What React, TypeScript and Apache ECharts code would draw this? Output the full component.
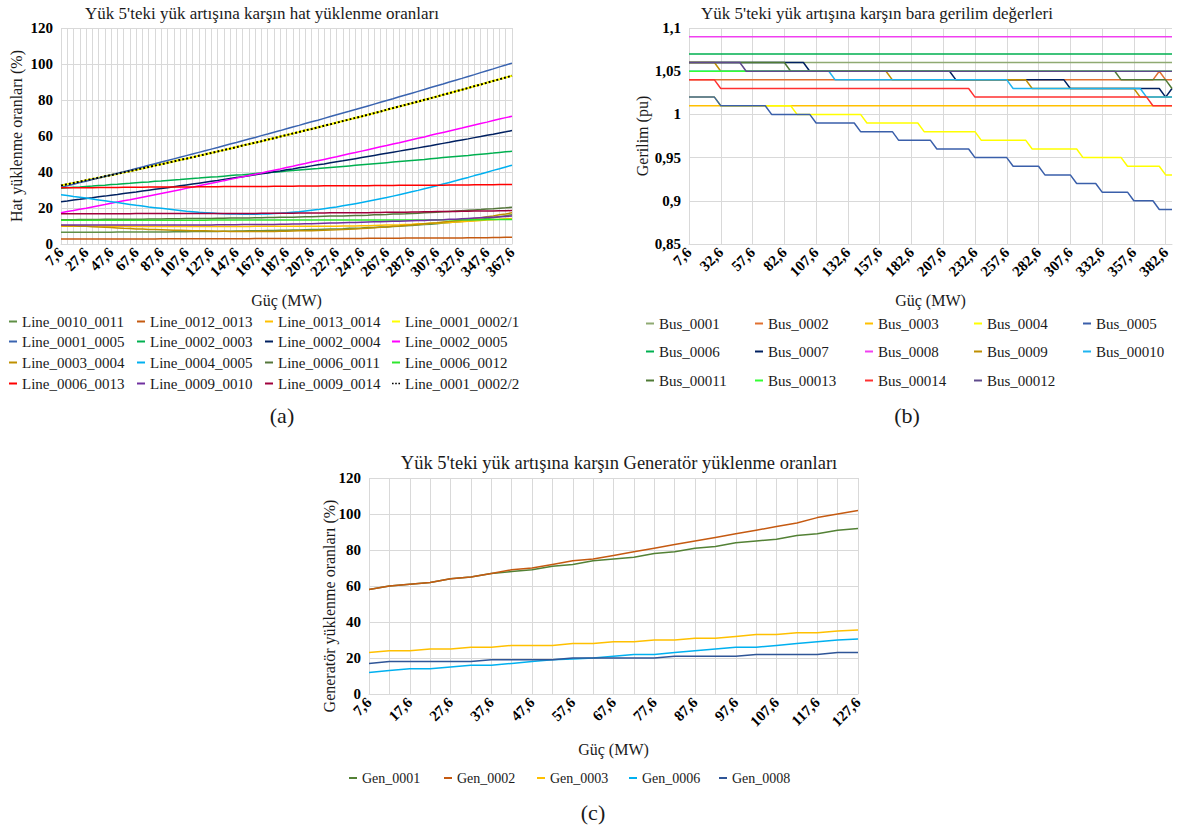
import { useEffect, useRef } from 'react';
import * as echarts from 'echarts';

const FONT = "'Liberation Serif', 'Times New Roman', serif";

// ---------- x categories (MW) ----------
const busCategories = [
  '7,6', '12,6', '17,6', '22,6', '27,6', '32,6', '37,6', '42,6', '47,6', '52,6',
  '57,6', '62,6', '67,6', '72,6', '77,6', '82,6', '87,6', '92,6', '97,6', '102,6',
  '107,6', '112,6', '117,6', '122,6', '127,6', '132,6', '137,6', '142,6', '147,6', '152,6',
  '157,6', '162,6', '167,6', '172,6', '177,6', '182,6', '187,6', '192,6', '197,6', '202,6',
  '207,6', '212,6', '217,6', '222,6', '227,6', '232,6', '237,6', '242,6', '247,6', '252,6',
  '257,6', '262,6', '267,6', '272,6', '277,6', '282,6', '287,6', '292,6', '297,6', '302,6',
  '307,6', '312,6', '317,6', '322,6', '327,6', '332,6', '337,6', '342,6', '347,6', '352,6',
  '357,6', '362,6', '367,6', '372,6', '377,6', '382,6', '387,6',
];
const lineCategories = busCategories.slice(0, 73);
const genCategories = busCategories.slice(0, 25);

// ---------- (a) line loading, % ----------
const line_0010_0011 = [
  6.5, 6.5, 6.5, 6.5, 6.5, 6.5, 6.5, 6.5, 6.5, 6.6,
  6.6, 6.6, 6.6, 6.6, 6.7, 6.7, 6.7, 6.7, 6.8, 6.8,
  6.8, 6.9, 6.9, 7.0, 7.0, 7.0, 7.1, 7.1, 7.2, 7.2,
  7.3, 7.3, 7.4, 7.5, 7.5, 7.6, 7.7, 7.8, 7.8, 7.9,
  8.0, 8.1, 8.2, 8.3, 8.4, 8.5, 8.7, 8.8, 8.9, 9.1,
  9.2, 9.4, 9.5, 9.7, 9.9, 10.1, 10.3, 10.6, 10.8, 11.0,
  11.3, 11.6, 11.9, 12.2, 12.5, 12.9, 13.2, 13.7, 14.1, 14.6,
  15.1, 15.7, 16.3,
];
const line_0012_0013 = [
  2.8, 2.8, 2.8, 2.8, 2.8, 2.8, 2.8, 2.8, 2.8, 2.8,
  2.8, 2.8, 2.8, 2.8, 2.8, 2.8, 2.9, 2.9, 2.9, 2.9,
  2.9, 2.9, 2.9, 2.9, 2.9, 2.9, 2.9, 2.9, 2.9, 2.9,
  2.9, 3.0, 3.0, 3.0, 3.0, 3.0, 3.0, 3.0, 3.0, 3.0,
  3.0, 3.1, 3.1, 3.1, 3.1, 3.1, 3.1, 3.1, 3.1, 3.2,
  3.2, 3.2, 3.2, 3.2, 3.2, 3.3, 3.3, 3.3, 3.3, 3.3,
  3.4, 3.4, 3.4, 3.4, 3.4, 3.5, 3.5, 3.5, 3.5, 3.6,
  3.6, 3.7, 3.7,
];
const line_0013_0014 = [
  9.8, 9.8, 9.8, 9.8, 9.8, 9.8, 9.8, 9.8, 9.8, 9.8,
  9.8, 9.7, 9.7, 9.7, 9.7, 9.7, 9.7, 9.7, 9.7, 9.7,
  9.7, 9.7, 9.7, 9.7, 9.7, 9.7, 9.7, 9.7, 9.7, 9.7,
  9.7, 9.8, 9.8, 9.8, 9.8, 9.8, 9.8, 9.8, 9.8, 9.8,
  9.8, 9.9, 9.9, 9.9, 9.9, 10.0, 10.0, 10.0, 10.1, 10.2,
  10.3, 10.4, 10.5, 10.6, 10.7, 10.9, 11.0, 11.2, 11.3, 11.5,
  11.6, 11.8, 12.0, 12.2, 12.4, 12.6, 12.8, 13.0, 13.3, 13.5,
  13.7, 14.0, 14.2,
];
// Line_0001_0002/1 and /2 carry the same loading
const line_0001_0002 = [
  32.5, 33.2, 33.9, 34.6, 35.4, 36.1, 36.8, 37.6, 38.3, 39.0,
  39.8, 40.5, 41.3, 42.0, 42.8, 43.6, 44.3, 45.1, 45.9, 46.7,
  47.4, 48.2, 49.0, 49.8, 50.6, 51.4, 52.2, 53.0, 53.8, 54.7,
  55.5, 56.3, 57.1, 58.0, 58.8, 59.7, 60.5, 61.4, 62.2, 63.1,
  63.9, 64.8, 65.7, 66.5, 67.4, 68.3, 69.2, 70.1, 70.9, 71.8,
  72.7, 73.6, 74.6, 75.5, 76.4, 77.3, 78.2, 79.1, 80.1, 81.0,
  81.9, 82.9, 83.8, 84.8, 85.7, 86.7, 87.7, 88.6, 89.6, 90.6,
  91.5, 92.5, 93.5,
];
const line_0001_0005 = [
  31.5, 32.3, 33.2, 34.1, 34.9, 35.8, 36.6, 37.5, 38.4, 39.3,
  40.1, 41.0, 41.9, 42.8, 43.7, 44.6, 45.5, 46.4, 47.3, 48.2,
  49.1, 50.0, 50.9, 51.8, 52.7, 53.6, 54.6, 55.5, 56.4, 57.4,
  58.3, 59.2, 60.2, 61.1, 62.1, 63.0, 64.0, 65.0, 65.9, 66.9,
  67.9, 68.8, 69.8, 70.8, 71.8, 72.8, 73.7, 74.7, 75.7, 76.7,
  77.7, 78.7, 79.7, 80.7, 81.8, 82.8, 83.8, 84.8, 85.8, 86.9,
  87.9, 88.9, 90.0, 91.0, 92.0, 93.1, 94.1, 95.2, 96.3, 97.3,
  98.4, 99.4, 100.5,
];
const line_0002_0003 = [
  31.0, 31.2, 31.5, 31.7, 32.0, 32.2, 32.5, 32.7, 33.0, 33.2,
  33.5, 33.7, 34.0, 34.3, 34.5, 34.8, 35.0, 35.3, 35.6, 35.8,
  36.1, 36.4, 36.6, 36.9, 37.2, 37.4, 37.7, 38.0, 38.3, 38.5,
  38.8, 39.1, 39.4, 39.7, 39.9, 40.2, 40.5, 40.8, 41.1, 41.4,
  41.7, 41.9, 42.2, 42.5, 42.8, 43.1, 43.4, 43.7, 44.0, 44.3,
  44.6, 44.9, 45.2, 45.5, 45.8, 46.1, 46.4, 46.7, 47.0, 47.4,
  47.7, 48.0, 48.3, 48.6, 48.9, 49.2, 49.6, 49.9, 50.2, 50.5,
  50.9, 51.2, 51.5,
];
const line_0002_0004 = [
  23.5, 23.9, 24.4, 24.8, 25.3, 25.7, 26.2, 26.6, 27.1, 27.5,
  28.0, 28.5, 28.9, 29.4, 29.9, 30.4, 30.8, 31.3, 31.8, 32.3,
  32.8, 33.3, 33.8, 34.3, 34.8, 35.3, 35.9, 36.4, 36.9, 37.4,
  37.9, 38.5, 39.0, 39.5, 40.1, 40.6, 41.2, 41.7, 42.3, 42.8,
  43.4, 44.0, 44.5, 45.1, 45.7, 46.2, 46.8, 47.4, 48.0, 48.6,
  49.2, 49.8, 50.4, 51.0, 51.6, 52.2, 52.8, 53.4, 54.0, 54.6,
  55.3, 55.9, 56.5, 57.2, 57.8, 58.4, 59.1, 59.7, 60.4, 61.0,
  61.7, 62.3, 63.0,
];
const line_0002_0005 = [
  17.3, 18.0, 18.6, 19.3, 19.9, 20.6, 21.3, 21.9, 22.6, 23.3,
  24.0, 24.6, 25.3, 26.0, 26.7, 27.4, 28.1, 28.8, 29.5, 30.2,
  30.9, 31.6, 32.3, 33.0, 33.7, 34.4, 35.2, 35.9, 36.6, 37.3,
  38.1, 38.8, 39.5, 40.3, 41.0, 41.7, 42.5, 43.2, 44.0, 44.7,
  45.5, 46.2, 47.0, 47.8, 48.5, 49.3, 50.1, 50.8, 51.6, 52.4,
  53.2, 54.0, 54.7, 55.6, 56.3, 57.1, 57.9, 58.7, 59.5, 60.4,
  61.2, 62.0, 62.8, 63.6, 64.4, 65.3, 66.1, 66.9, 67.7, 68.6,
  69.4, 70.2, 71.0,
];
const line_0003_0004 = [
  10.3, 10.2, 10.1, 9.9, 9.8, 9.6, 9.4, 9.3, 9.1, 8.9,
  8.7, 8.6, 8.4, 8.3, 8.1, 8.0, 7.9, 7.8, 7.7, 7.6,
  7.5, 7.4, 7.3, 7.3, 7.2, 7.1, 7.1, 7.0, 7.0, 7.0,
  7.0, 7.0, 7.0, 7.0, 7.0, 7.1, 7.1, 7.2, 7.3, 7.3,
  7.4, 7.5, 7.6, 7.8, 7.9, 8.1, 8.2, 8.4, 8.6, 8.8,
  9.0, 9.3, 9.5, 9.8, 10.0, 10.3, 10.6, 10.9, 11.2, 11.5,
  11.8, 12.2, 12.5, 12.9, 13.2, 13.7, 14.1, 14.6, 15.1, 15.6,
  16.2, 16.7, 17.3,
];
const line_0004_0005 = [
  27.3, 26.9, 26.4, 26.0, 25.5, 25.0, 24.5, 24.0, 23.5, 23.0,
  22.5, 22.0, 21.5, 21.1, 20.6, 20.2, 19.8, 19.4, 19.0, 18.6,
  18.2, 17.9, 17.6, 17.4, 17.2, 17.0, 16.8, 16.7, 16.6, 16.5,
  16.5, 16.5, 16.6, 16.7, 16.9, 17.1, 17.3, 17.6, 17.9, 18.3,
  18.7, 19.1, 19.6, 20.1, 20.6, 21.2, 21.8, 22.4, 23.0, 23.7,
  24.4, 25.1, 25.8, 26.6, 27.4, 28.2, 29.0, 29.8, 30.7, 31.5,
  32.4, 33.3, 34.2, 35.1, 36.1, 37.0, 38.0, 38.9, 39.9, 40.9,
  41.8, 42.8, 43.8,
];
const line_0006_0011 = [
  13.5, 13.5, 13.5, 13.6, 13.6, 13.6, 13.6, 13.7, 13.7, 13.7,
  13.7, 13.8, 13.8, 13.8, 13.9, 13.9, 13.9, 14.0, 14.0, 14.0,
  14.1, 14.1, 14.1, 14.2, 14.2, 14.3, 14.3, 14.4, 14.4, 14.5,
  14.5, 14.6, 14.6, 14.7, 14.7, 14.8, 14.8, 14.9, 15.0, 15.1,
  15.2, 15.3, 15.4, 15.5, 15.5, 15.6, 15.7, 15.8, 15.9, 16.0,
  16.2, 16.3, 16.4, 16.6, 16.7, 16.8, 17.0, 17.1, 17.3, 17.5,
  17.7, 17.9, 18.1, 18.3, 18.5, 18.7, 18.9, 19.1, 19.4, 19.6,
  19.9, 20.1, 20.4,
];
const line_0006_0012 = [
  13.2, 13.2, 13.2, 13.2, 13.2, 13.2, 13.2, 13.2, 13.2, 13.2,
  13.2, 13.2, 13.2, 13.2, 13.2, 13.2, 13.2, 13.2, 13.2, 13.2,
  13.2, 13.2, 13.2, 13.2, 13.3, 13.3, 13.3, 13.3, 13.3, 13.3,
  13.3, 13.3, 13.3, 13.3, 13.3, 13.3, 13.3, 13.3, 13.3, 13.3,
  13.3, 13.3, 13.3, 13.3, 13.3, 13.3, 13.3, 13.3, 13.4, 13.4,
  13.4, 13.4, 13.4, 13.4, 13.4, 13.4, 13.4, 13.4, 13.4, 13.4,
  13.5, 13.5, 13.5, 13.5, 13.5, 13.5, 13.5, 13.5, 13.6, 13.6,
  13.6, 13.6, 13.6,
];
const line_0006_0013 = [
  31.2, 31.2, 31.3, 31.3, 31.3, 31.3, 31.4, 31.4, 31.4, 31.4,
  31.5, 31.5, 31.5, 31.5, 31.6, 31.6, 31.6, 31.6, 31.7, 31.7,
  31.7, 31.7, 31.8, 31.8, 31.8, 31.8, 31.9, 31.9, 31.9, 31.9,
  32.0, 32.0, 32.0, 32.0, 32.1, 32.1, 32.1, 32.1, 32.2, 32.2,
  32.2, 32.2, 32.3, 32.3, 32.3, 32.3, 32.4, 32.4, 32.4, 32.4,
  32.5, 32.5, 32.5, 32.5, 32.6, 32.6, 32.6, 32.6, 32.7, 32.7,
  32.7, 32.7, 32.8, 32.8, 32.8, 32.8, 32.9, 32.9, 32.9, 32.9,
  33.0, 33.0, 33.0,
];
const line_0009_0010 = [
  10.5, 10.5, 10.5, 10.5, 10.5, 10.5, 10.5, 10.5, 10.5, 10.5,
  10.5, 10.5, 10.6, 10.6, 10.6, 10.6, 10.6, 10.6, 10.6, 10.6,
  10.6, 10.6, 10.6, 10.6, 10.6, 10.7, 10.7, 10.7, 10.7, 10.8,
  10.8, 10.8, 10.9, 10.9, 10.9, 11.0, 11.0, 11.1, 11.1, 11.2,
  11.3, 11.4, 11.5, 11.6, 11.7, 11.8, 11.9, 12.0, 12.1, 12.2,
  12.3, 12.4, 12.5, 12.6, 12.7, 12.8, 12.9, 13.0, 13.1, 13.3,
  13.4, 13.5, 13.7, 13.8, 14.0, 14.2, 14.4, 14.6, 14.8, 14.9,
  15.1, 15.3, 15.5,
];
const line_0009_0014 = [
  16.8, 16.8, 16.8, 16.8, 16.8, 16.8, 16.8, 16.8, 16.8, 16.8,
  16.8, 16.8, 16.9, 16.9, 16.9, 16.9, 16.9, 16.9, 16.9, 16.9,
  16.9, 16.9, 16.9, 17.0, 17.0, 17.0, 17.0, 17.0, 17.0, 17.0,
  17.0, 17.0, 17.1, 17.1, 17.1, 17.1, 17.1, 17.1, 17.2, 17.2,
  17.2, 17.2, 17.2, 17.3, 17.3, 17.3, 17.3, 17.4, 17.4, 17.4,
  17.5, 17.5, 17.6, 17.6, 17.7, 17.7, 17.8, 17.8, 17.9, 17.9,
  18.0, 18.0, 18.1, 18.1, 18.2, 18.2, 18.3, 18.3, 18.4, 18.4,
  18.5, 18.5, 18.6,
];

// ---------- (b) bus voltage, pu ----------
const bus_0001 = [
  1.06, 1.06, 1.06, 1.06, 1.06, 1.06, 1.06, 1.06, 1.06, 1.06,
  1.06, 1.06, 1.06, 1.06, 1.06, 1.06, 1.06, 1.06, 1.06, 1.06,
  1.06, 1.06, 1.06, 1.06, 1.06, 1.06, 1.06, 1.06, 1.06, 1.06,
  1.06, 1.06, 1.06, 1.06, 1.06, 1.06, 1.06, 1.06, 1.06, 1.06,
  1.06, 1.06, 1.06, 1.06, 1.06, 1.06, 1.06, 1.06, 1.06, 1.06,
  1.06, 1.06, 1.06, 1.06, 1.06, 1.06, 1.06, 1.06, 1.06, 1.06,
  1.06, 1.06, 1.06, 1.06, 1.06, 1.06, 1.06, 1.06, 1.06, 1.06,
  1.06, 1.06, 1.06, 1.06, 1.06, 1.06, 1.06,
];
const bus_0002 = [
  1.04, 1.04, 1.04, 1.04, 1.04, 1.04, 1.04, 1.04, 1.04, 1.04,
  1.04, 1.04, 1.04, 1.04, 1.04, 1.04, 1.04, 1.04, 1.04, 1.04,
  1.04, 1.04, 1.04, 1.04, 1.04, 1.04, 1.04, 1.04, 1.04, 1.04,
  1.04, 1.04, 1.04, 1.04, 1.04, 1.04, 1.04, 1.04, 1.04, 1.04,
  1.04, 1.04, 1.04, 1.04, 1.04, 1.04, 1.04, 1.04, 1.04, 1.04,
  1.04, 1.04, 1.04, 1.04, 1.04, 1.04, 1.04, 1.04, 1.04, 1.04,
  1.04, 1.04, 1.04, 1.04, 1.04, 1.04, 1.04, 1.04, 1.04, 1.04,
  1.04, 1.04, 1.04, 1.04, 1.05, 1.04, 1.04,
];
const bus_0003 = [
  1.01, 1.01, 1.01, 1.01, 1.01, 1.01, 1.01, 1.01, 1.01, 1.01,
  1.01, 1.01, 1.01, 1.01, 1.01, 1.01, 1.01, 1.01, 1.01, 1.01,
  1.01, 1.01, 1.01, 1.01, 1.01, 1.01, 1.01, 1.01, 1.01, 1.01,
  1.01, 1.01, 1.01, 1.01, 1.01, 1.01, 1.01, 1.01, 1.01, 1.01,
  1.01, 1.01, 1.01, 1.01, 1.01, 1.01, 1.01, 1.01, 1.01, 1.01,
  1.01, 1.01, 1.01, 1.01, 1.01, 1.01, 1.01, 1.01, 1.01, 1.01,
  1.01, 1.01, 1.01, 1.01, 1.01, 1.01, 1.01, 1.01, 1.01, 1.01,
  1.01, 1.01, 1.01, 1.01, 1.01, 1.01, 1.01,
];
const bus_0004 = [
  1.02, 1.02, 1.02, 1.02, 1.02, 1.01, 1.01, 1.01, 1.01, 1.01,
  1.01, 1.01, 1.01, 1.01, 1.01, 1.01, 1.01, 1.00, 1.00, 1.00,
  1.00, 1.00, 1.00, 1.00, 1.00, 1.00, 1.00, 1.00, 0.99, 0.99,
  0.99, 0.99, 0.99, 0.99, 0.99, 0.99, 0.99, 0.98, 0.98, 0.98,
  0.98, 0.98, 0.98, 0.98, 0.98, 0.98, 0.97, 0.97, 0.97, 0.97,
  0.97, 0.97, 0.97, 0.97, 0.96, 0.96, 0.96, 0.96, 0.96, 0.96,
  0.96, 0.96, 0.95, 0.95, 0.95, 0.95, 0.95, 0.95, 0.95, 0.94,
  0.94, 0.94, 0.94, 0.94, 0.94, 0.93, 0.93,
];
const bus_0005 = [
  1.02, 1.02, 1.02, 1.02, 1.02, 1.01, 1.01, 1.01, 1.01, 1.01,
  1.01, 1.01, 1.01, 1.00, 1.00, 1.00, 1.00, 1.00, 1.00, 1.00,
  0.99, 0.99, 0.99, 0.99, 0.99, 0.99, 0.99, 0.98, 0.98, 0.98,
  0.98, 0.98, 0.98, 0.97, 0.97, 0.97, 0.97, 0.97, 0.97, 0.96,
  0.96, 0.96, 0.96, 0.96, 0.96, 0.95, 0.95, 0.95, 0.95, 0.95,
  0.95, 0.94, 0.94, 0.94, 0.94, 0.94, 0.93, 0.93, 0.93, 0.93,
  0.93, 0.92, 0.92, 0.92, 0.92, 0.91, 0.91, 0.91, 0.91, 0.91,
  0.90, 0.90, 0.90, 0.90, 0.89, 0.89, 0.89,
];
const bus_0006 = [
  1.07, 1.07, 1.07, 1.07, 1.07, 1.07, 1.07, 1.07, 1.07, 1.07,
  1.07, 1.07, 1.07, 1.07, 1.07, 1.07, 1.07, 1.07, 1.07, 1.07,
  1.07, 1.07, 1.07, 1.07, 1.07, 1.07, 1.07, 1.07, 1.07, 1.07,
  1.07, 1.07, 1.07, 1.07, 1.07, 1.07, 1.07, 1.07, 1.07, 1.07,
  1.07, 1.07, 1.07, 1.07, 1.07, 1.07, 1.07, 1.07, 1.07, 1.07,
  1.07, 1.07, 1.07, 1.07, 1.07, 1.07, 1.07, 1.07, 1.07, 1.07,
  1.07, 1.07, 1.07, 1.07, 1.07, 1.07, 1.07, 1.07, 1.07, 1.07,
  1.07, 1.07, 1.07, 1.07, 1.07, 1.07, 1.07,
];
const bus_0007 = [
  1.06, 1.06, 1.06, 1.06, 1.06, 1.06, 1.06, 1.06, 1.06, 1.06,
  1.06, 1.06, 1.06, 1.06, 1.06, 1.06, 1.06, 1.06, 1.06, 1.05,
  1.05, 1.05, 1.05, 1.05, 1.05, 1.05, 1.05, 1.05, 1.05, 1.05,
  1.05, 1.05, 1.05, 1.05, 1.05, 1.05, 1.05, 1.05, 1.05, 1.05,
  1.05, 1.05, 1.04, 1.04, 1.04, 1.04, 1.04, 1.04, 1.04, 1.04,
  1.04, 1.04, 1.04, 1.04, 1.04, 1.04, 1.04, 1.04, 1.04, 1.04,
  1.03, 1.03, 1.03, 1.03, 1.03, 1.03, 1.03, 1.03, 1.03, 1.03,
  1.03, 1.03, 1.03, 1.03, 1.03, 1.02, 1.03,
];
const bus_0008 = [
  1.09, 1.09, 1.09, 1.09, 1.09, 1.09, 1.09, 1.09, 1.09, 1.09,
  1.09, 1.09, 1.09, 1.09, 1.09, 1.09, 1.09, 1.09, 1.09, 1.09,
  1.09, 1.09, 1.09, 1.09, 1.09, 1.09, 1.09, 1.09, 1.09, 1.09,
  1.09, 1.09, 1.09, 1.09, 1.09, 1.09, 1.09, 1.09, 1.09, 1.09,
  1.09, 1.09, 1.09, 1.09, 1.09, 1.09, 1.09, 1.09, 1.09, 1.09,
  1.09, 1.09, 1.09, 1.09, 1.09, 1.09, 1.09, 1.09, 1.09, 1.09,
  1.09, 1.09, 1.09, 1.09, 1.09, 1.09, 1.09, 1.09, 1.09, 1.09,
  1.09, 1.09, 1.09, 1.09, 1.09, 1.09, 1.09,
];
const bus_0009 = [
  1.06, 1.06, 1.06, 1.06, 1.06, 1.05, 1.05, 1.05, 1.05, 1.05,
  1.05, 1.05, 1.05, 1.05, 1.05, 1.05, 1.05, 1.05, 1.05, 1.05,
  1.05, 1.05, 1.05, 1.05, 1.05, 1.05, 1.05, 1.05, 1.05, 1.05,
  1.05, 1.05, 1.04, 1.04, 1.04, 1.04, 1.04, 1.04, 1.04, 1.04,
  1.04, 1.04, 1.04, 1.04, 1.04, 1.04, 1.04, 1.04, 1.04, 1.04,
  1.04, 1.04, 1.04, 1.04, 1.03, 1.03, 1.03, 1.03, 1.03, 1.03,
  1.03, 1.03, 1.03, 1.03, 1.03, 1.03, 1.03, 1.03, 1.03, 1.03,
  1.03, 1.02, 1.02, 1.02, 1.02, 1.02, 1.02,
];
const bus_00010 = [
  1.05, 1.05, 1.05, 1.05, 1.05, 1.05, 1.05, 1.05, 1.05, 1.05,
  1.05, 1.05, 1.05, 1.05, 1.05, 1.05, 1.05, 1.05, 1.05, 1.05,
  1.05, 1.05, 1.05, 1.04, 1.04, 1.04, 1.04, 1.04, 1.04, 1.04,
  1.04, 1.04, 1.04, 1.04, 1.04, 1.04, 1.04, 1.04, 1.04, 1.04,
  1.04, 1.04, 1.04, 1.04, 1.04, 1.04, 1.04, 1.04, 1.04, 1.04,
  1.04, 1.03, 1.03, 1.03, 1.03, 1.03, 1.03, 1.03, 1.03, 1.03,
  1.03, 1.03, 1.03, 1.03, 1.03, 1.03, 1.03, 1.03, 1.03, 1.03,
  1.03, 1.03, 1.02, 1.02, 1.02, 1.02, 1.02,
];
const bus_00011 = [
  1.06, 1.06, 1.06, 1.06, 1.06, 1.06, 1.06, 1.06, 1.06, 1.06,
  1.06, 1.06, 1.06, 1.06, 1.06, 1.06, 1.05, 1.05, 1.05, 1.05,
  1.05, 1.05, 1.05, 1.05, 1.05, 1.05, 1.05, 1.05, 1.05, 1.05,
  1.05, 1.05, 1.05, 1.05, 1.05, 1.05, 1.05, 1.05, 1.05, 1.05,
  1.05, 1.05, 1.05, 1.05, 1.05, 1.05, 1.05, 1.05, 1.05, 1.05,
  1.05, 1.05, 1.05, 1.05, 1.05, 1.05, 1.05, 1.05, 1.05, 1.05,
  1.05, 1.05, 1.05, 1.05, 1.05, 1.05, 1.05, 1.05, 1.04, 1.04,
  1.04, 1.04, 1.04, 1.04, 1.04, 1.04, 1.03,
];
const bus_00013 = [
  1.05, 1.05, 1.05, 1.05, 1.05, 1.05, 1.05, 1.05, 1.05, 1.05,
  1.05, 1.05, 1.05, 1.05, 1.05, 1.05, 1.05, 1.05, 1.05, 1.05,
  1.05, 1.05, 1.05, 1.05, 1.05, 1.05, 1.05, 1.05, 1.05, 1.05,
  1.05, 1.05, 1.05, 1.05, 1.05, 1.05, 1.05, 1.05, 1.05, 1.05,
  1.05, 1.05, 1.05, 1.05, 1.05, 1.05, 1.05, 1.05, 1.05, 1.05,
  1.05, 1.05, 1.05, 1.05, 1.05, 1.05, 1.05, 1.05, 1.05, 1.05,
  1.05, 1.05, 1.05, 1.05, 1.05, 1.05, 1.05, 1.05, 1.05, 1.05,
  1.05, 1.05, 1.05, 1.05, 1.05, 1.05, 1.05,
];
const bus_00014 = [
  1.04, 1.04, 1.04, 1.04, 1.04, 1.03, 1.03, 1.03, 1.03, 1.03,
  1.03, 1.03, 1.03, 1.03, 1.03, 1.03, 1.03, 1.03, 1.03, 1.03,
  1.03, 1.03, 1.03, 1.03, 1.03, 1.03, 1.03, 1.03, 1.03, 1.03,
  1.03, 1.03, 1.03, 1.03, 1.03, 1.03, 1.03, 1.03, 1.03, 1.03,
  1.03, 1.03, 1.03, 1.03, 1.03, 1.02, 1.02, 1.02, 1.02, 1.02,
  1.02, 1.02, 1.02, 1.02, 1.02, 1.02, 1.02, 1.02, 1.02, 1.02,
  1.02, 1.02, 1.02, 1.02, 1.02, 1.02, 1.02, 1.02, 1.02, 1.02,
  1.02, 1.02, 1.02, 1.01, 1.01, 1.01, 1.01,
];
const bus_00012 = [
  1.06, 1.06, 1.06, 1.06, 1.06, 1.06, 1.06, 1.06, 1.06, 1.05,
  1.05, 1.05, 1.05, 1.05, 1.05, 1.05, 1.05, 1.05, 1.05, 1.05,
  1.05, 1.05, 1.05, 1.05, 1.05, 1.05, 1.05, 1.05, 1.05, 1.05,
  1.05, 1.05, 1.05, 1.05, 1.05, 1.05, 1.05, 1.05, 1.05, 1.05,
  1.05, 1.05, 1.05, 1.05, 1.05, 1.05, 1.05, 1.05, 1.05, 1.05,
  1.05, 1.05, 1.05, 1.05, 1.05, 1.05, 1.05, 1.05, 1.05, 1.05,
  1.05, 1.05, 1.05, 1.05, 1.05, 1.05, 1.05, 1.05, 1.05, 1.05,
  1.05, 1.05, 1.05, 1.05, 1.05, 1.05, 1.05,
];

// ---------- (c) generator loading, % ----------
const gen_0001 = [58, 60, 61, 62, 64, 65, 67, 68, 69, 71, 72, 74, 75, 76, 78, 79, 81, 82, 84, 85, 86, 88, 89, 91, 92];
const gen_0002 = [58, 60, 61, 62, 64, 65, 67, 69, 70, 72, 74, 75, 77, 79, 81, 83, 85, 87, 89, 91, 93, 95, 98, 100, 102];
const gen_0003 = [23, 24, 24, 25, 25, 26, 26, 27, 27, 27, 28, 28, 29, 29, 30, 30, 31, 31, 32, 33, 33, 34, 34, 35, 35.5];
const gen_0006 = [12, 13, 14, 14, 15, 16, 16, 17, 18, 19, 19.5, 20, 21, 22, 22, 23, 24, 25, 26, 26, 27, 28, 29, 30, 30.5];
const gen_0008 = [17, 18, 18, 18, 18, 18, 19, 19, 19, 19, 20, 20, 20, 20, 20, 21, 21, 21, 21, 22, 22, 22, 22, 23, 23];

// ---------- series definitions (drawing order = legend order) ----------
type Def = { name: string; data: number[]; color: string; dotted?: boolean; width?: number };

const lineDefs: Def[] = [
  { name: 'Line_0010_0011', data: line_0010_0011, color: '#5F8F45' },
  { name: 'Line_0012_0013', data: line_0012_0013, color: '#C55A11' },
  { name: 'Line_0013_0014', data: line_0013_0014, color: '#FFC000' },
  { name: 'Line_0001_0002/1', data: line_0001_0002, color: '#FFFF00', width: 2.2 },
  { name: 'Line_0001_0005', data: line_0001_0005, color: '#3A64B0' },
  { name: 'Line_0002_0003', data: line_0002_0003, color: '#00B050' },
  { name: 'Line_0002_0004', data: line_0002_0004, color: '#002060' },
  { name: 'Line_0002_0005', data: line_0002_0005, color: '#FF00FF' },
  { name: 'Line_0003_0004', data: line_0003_0004, color: '#BF9000' },
  { name: 'Line_0004_0005', data: line_0004_0005, color: '#00B0F0' },
  { name: 'Line_0006_0011', data: line_0006_0011, color: '#54763A' },
  { name: 'Line_0006_0012', data: line_0006_0012, color: '#2EE62E' },
  { name: 'Line_0006_0013', data: line_0006_0013, color: '#FF0000' },
  { name: 'Line_0009_0010', data: line_0009_0010, color: '#7030A0' },
  { name: 'Line_0009_0014', data: line_0009_0014, color: '#A0003C' },
  { name: 'Line_0001_0002/2', data: line_0001_0002, color: '#000000', dotted: true, width: 2 },
];

const busDefs: Def[] = [
  { name: 'Bus_0001', data: bus_0001, color: '#8FAA72' },
  { name: 'Bus_0002', data: bus_0002, color: '#E07030' },
  { name: 'Bus_0003', data: bus_0003, color: '#FFC000' },
  { name: 'Bus_0004', data: bus_0004, color: '#FFFF00' },
  { name: 'Bus_0005', data: bus_0005, color: '#3A5FAA' },
  { name: 'Bus_0006', data: bus_0006, color: '#00B050' },
  { name: 'Bus_0007', data: bus_0007, color: '#002060' },
  { name: 'Bus_0008', data: bus_0008, color: '#F040F0' },
  { name: 'Bus_0009', data: bus_0009, color: '#BF8F00' },
  { name: 'Bus_00010', data: bus_00010, color: '#1FB4F0' },
  { name: 'Bus_00011', data: bus_00011, color: '#4F7A35' },
  { name: 'Bus_00013', data: bus_00013, color: '#33FF33' },
  { name: 'Bus_00014', data: bus_00014, color: '#FF3030' },
  { name: 'Bus_00012', data: bus_00012, color: '#5F4A8C' },
];

const genDefs: Def[] = [
  { name: 'Gen_0001', data: gen_0001, color: '#538135' },
  { name: 'Gen_0002', data: gen_0002, color: '#C55A11' },
  { name: 'Gen_0003', data: gen_0003, color: '#FFC000' },
  { name: 'Gen_0006', data: gen_0006, color: '#00B0F0' },
  { name: 'Gen_0008', data: gen_0008, color: '#2F5597' },
];

// ---------- layout ----------
const GRID_COLOR = '#D9D9D9';
const TEXT = '#1A1A1A';

const legendLayoutA = { cols: [12, 140, 268, 395], rows: [323, 343, 364, 385], size: 15 };
const legendLayoutB = { cols: [649, 758, 868, 977, 1086], rows: [325, 353, 382], size: 15 };
const legendLayoutC = { cols: [352, 447, 540, 632, 722], rows: [780], size: 14 };

function makeSeries(defs: Def[], axisIndex: number) {
  return defs.map((d) => ({
    type: 'line',
    name: d.name,
    xAxisIndex: axisIndex,
    yAxisIndex: axisIndex,
    data: d.data,
    symbol: 'none',
    silent: true,
    color: d.color,
    emphasis: { disabled: true },
    lineStyle: {
      color: d.color,
      width: d.width ?? 1.5,
      type: d.dotted ? [2, 2] : 'solid',
    },
  }));
}

function makeLegends(defs: Def[], layout: { cols: number[]; rows: number[]; size: number }) {
  const n = layout.cols.length;
  return defs.map((d, k) => ({
    data: [d.name],
    left: layout.cols[k % n] - 3,
    top: layout.rows[Math.floor(k / n)] - 9,
    padding: 0,
    itemWidth: 8,
    itemHeight: 2,
    icon: d.dotted ? 'path://M0 0h2v2H0z M4 0h2v2H4z M8 0h2v2H8z' : 'rect',
    selectedMode: false,
    textStyle: { fontFamily: FONT, fontSize: layout.size, color: TEXT },
  }));
}

function categoryAxis(grid: number, data: string[], labelInterval: number, splitInterval: number, nameGap: number) {
  return {
    gridIndex: grid,
    type: 'category',
    data,
    boundaryGap: false,
    name: 'Güç (MW)',
    nameLocation: 'middle',
    nameGap,
    nameTextStyle: { fontFamily: FONT, fontSize: 16, color: TEXT },
    axisLine: { show: true, lineStyle: { color: GRID_COLOR, width: 1 } },
    axisTick: { show: false },
    axisLabel: {
      interval: labelInterval,
      rotate: 45,
      margin: 6,
      fontFamily: FONT,
      fontSize: 15,
      fontWeight: 'bold',
      color: '#000',
    },
    splitLine: { show: true, interval: splitInterval, lineStyle: { color: GRID_COLOR, width: 1 } },
  };
}

function valueAxis(
  grid: number,
  name: string,
  min: number,
  max: number,
  interval: number,
  nameGap: number,
  formatter?: (v: number) => string,
) {
  return {
    gridIndex: grid,
    type: 'value',
    min,
    max,
    interval,
    name,
    nameLocation: 'middle',
    nameGap,
    nameTextStyle: { fontFamily: FONT, fontSize: 16, color: TEXT },
    axisLine: { show: false },
    axisTick: { show: false },
    axisLabel: {
      margin: 8,
      fontFamily: FONT,
      fontSize: 15,
      fontWeight: 'bold',
      color: '#000',
      formatter,
    },
    splitLine: { show: true, lineStyle: { color: GRID_COLOR, width: 1 } },
  };
}

const puFormatter = (v: number) => String(Math.round(v * 100) / 100).replace('.', ',');

function textEl(text: string, x: number, y: number, size: number, rotation = 0) {
  return {
    type: 'text',
    x,
    y,
    rotation,
    silent: true,
    style: {
      text,
      fontFamily: FONT,
      fontSize: size,
      fill: TEXT,
      textAlign: 'center',
      textVerticalAlign: 'middle',
    },
  };
}

const option = {
  animation: false,
  backgroundColor: '#ffffff',
  grid: [
    { left: 61, top: 28, width: 451, height: 216 },
    { left: 689, top: 28, width: 483, height: 216 },
    { left: 369, top: 478, width: 489, height: 216 },
  ],
  xAxis: [
    categoryAxis(0, lineCategories, 3, 0, 48),
    categoryAxis(1, busCategories, 4, 4, 48),
    categoryAxis(2, genCategories, 1, 0, 47),
  ],
  yAxis: [
    valueAxis(0, 'Hat yüklenme oranları (%)', 0, 120, 20, 37),
    valueAxis(1, 'Gerilim (pu)', 0.85, 1.1, 0.05, 37, puFormatter),
    // (c) axis title sits lower than the plot centre, so it is placed as a graphic text below
    valueAxis(2, '', 0, 120, 20, 32),
  ],
  legend: [
    ...makeLegends(lineDefs, legendLayoutA),
    ...makeLegends(busDefs, legendLayoutB),
    ...makeLegends(genDefs, legendLayoutC),
  ],
  series: [...makeSeries(lineDefs, 0), ...makeSeries(busDefs, 1), ...makeSeries(genDefs, 2)],
  graphic: [
    textEl("Yük 5'teki yük artışına karşın hat yüklenme oranları", 262, 13, 17),
    textEl("Yük 5'teki yük artışına karşın bara gerilim değerleri", 877, 13, 17),
    textEl("Yük 5'teki yük artışına karşın Generatör yüklenme oranları", 619, 463, 18.5),
    textEl('Generatör yüklenme oranları (%)', 329, 606, 16, Math.PI / 2),
    textEl('(a)', 282, 415, 22),
    textEl('(b)', 907, 415, 22),
    textEl('(c)', 593, 812, 22),
  ],
};

export default function App() {
  const ref = useRef<HTMLDivElement>(null);
  useEffect(() => {
    if (!ref.current) return;
    const chart = echarts.init(ref.current, null, { renderer: 'svg' });
    chart.setOption(option as any);
    return () => chart.dispose();
  }, []);
  return (
    <div
      ref={ref}
      style={{ position: 'fixed', left: 0, top: 0, width: 1177, height: 831, background: '#fff' }}
    />
  );
}
